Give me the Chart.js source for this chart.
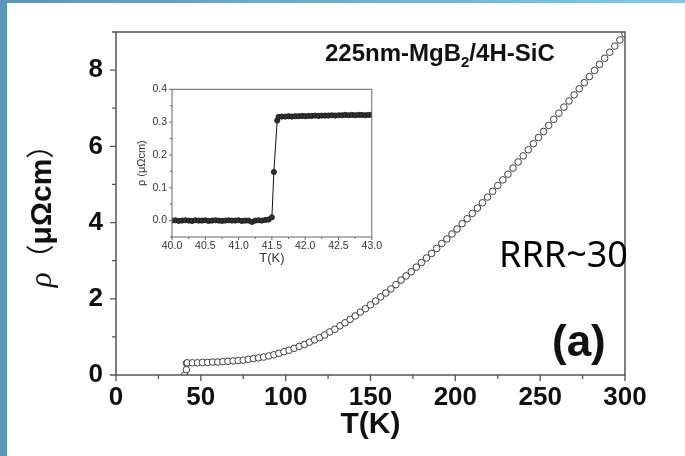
<!DOCTYPE html>
<html>
<head>
<meta charset="utf-8">
<script src="https://cdn.jsdelivr.net/npm/chart.js@4.4.1/dist/chart.umd.min.js"></script>
<style>
  html, body { margin: 0; padding: 0; background: #fff; }
  #wrap { position: relative; width: 685px; height: 456px; overflow: hidden; background: #fff; }
  #main { position: absolute; left: 0; top: 0; }
  #inset { position: absolute; left: 120px; top: 78px; }
  #leftbar { position: absolute; left: 0; top: 0; width: 7px; height: 456px; background: #5b95b8; }
  #topbar { position: absolute; left: 0; top: 0; width: 685px; height: 3px; background: linear-gradient(to right, #5b95b8, #7fcbe4); }
</style>
</head>
<body>
<div id="wrap">
  <canvas id="main" width="685" height="456"></canvas>
  <canvas id="inset" width="265" height="195"></canvas>
  <div id="leftbar"></div>
  <div id="topbar"></div>
</div>
<script>
// main curve, T in K, rho in uOhm cm
const mainT = [40.5, 41.5, 41.6,
  42, 45, 48, 51, 54, 57, 60, 63, 66, 69, 72, 75, 78, 81, 84, 87, 90, 93, 96, 99,
  102, 105, 108, 111, 114, 117, 120, 123, 126, 129, 132, 135, 138, 141, 144, 147, 150,
  153, 156, 159, 162, 165, 168, 171, 174, 177, 180, 183, 186, 189, 192, 195, 198, 201,
  204, 207, 210, 213, 216, 219, 222, 225, 228, 231, 234, 237, 240, 243, 246, 249, 252,
  255, 258, 261, 264, 267, 270, 273, 276, 279, 282, 285, 288, 291, 294, 297, 300];
const mainRho = [0, 0.14, 0.31,
  0.32, 0.32, 0.32, 0.33, 0.33, 0.34, 0.34, 0.35, 0.36, 0.37, 0.38, 0.39, 0.41, 0.43, 0.45, 0.47, 0.50, 0.53, 0.57, 0.61,
  0.65, 0.70, 0.75, 0.80, 0.86, 0.92, 0.98, 1.05, 1.13, 1.20, 1.29, 1.37, 1.46, 1.55, 1.65, 1.74, 1.84,
  1.94, 2.05, 2.15, 2.26, 2.37, 2.49, 2.60, 2.71, 2.83, 2.95, 3.07, 3.19, 3.32, 3.45, 3.57, 3.70, 3.83,
  3.97, 4.10, 4.24, 4.38, 4.52, 4.67, 4.82, 4.97, 5.12, 5.27, 5.43, 5.59, 5.75, 5.91, 6.07, 6.23, 6.39,
  6.55, 6.71, 6.87, 7.03, 7.19, 7.35, 7.51, 7.67, 7.83, 7.99, 8.15, 8.31, 8.47, 8.63, 8.79, 8.95];

// inset: transition region
const insetT = [40.00, 40.05, 40.10, 40.15, 40.20, 40.25, 40.30, 40.35, 40.40, 40.45,
  40.50, 40.55, 40.60, 40.65, 40.70, 40.75, 40.80, 40.85, 40.90, 40.95,
  41.00, 41.05, 41.10, 41.15, 41.20, 41.25, 41.30, 41.35, 41.40, 41.45,
  41.50, 41.53, 41.58,
  41.60, 41.65, 41.70, 41.75, 41.80, 41.85, 41.90, 41.95, 42.00, 42.05,
  42.10, 42.15, 42.20, 42.25, 42.30, 42.35, 42.40, 42.45, 42.50, 42.55,
  42.60, 42.65, 42.70, 42.75, 42.80, 42.85, 42.90, 42.95, 43.00];
const insetRho = [0.000, 0.001, -0.001, 0.000, 0.001, 0.000, -0.001, 0.001, 0.000, 0.000,
  0.001, -0.001, 0.000, 0.001, 0.000, -0.001, 0.000, 0.001, 0.000, 0.000,
  0.001, -0.001, 0.000, 0.000, -0.004, 0.000, 0.001, 0.000, 0.002, 0.003,
  0.010, 0.148, 0.305,
  0.316, 0.317, 0.317, 0.318, 0.317, 0.318, 0.318, 0.319, 0.318, 0.319,
  0.319, 0.320, 0.319, 0.320, 0.320, 0.320, 0.321, 0.320, 0.321, 0.321,
  0.322, 0.321, 0.322, 0.321, 0.322, 0.322, 0.321, 0.322, 0.322];

const FONT = '"Liberation Sans", Arial, sans-serif';
Chart.defaults.font.family = FONT;

// frame around the plot area plus outward tick marks (long for labelled ticks)
const axisFrame = {
  id: 'axisFrame',
  afterDraw(chart, args, opts) {
    const { ctx, chartArea: a, scales } = chart;
    ctx.save();
    ctx.strokeStyle = opts.color;
    ctx.lineWidth = opts.width;
    ctx.strokeRect(a.left, a.top, a.right - a.left, a.bottom - a.top);
    ctx.lineWidth = opts.tickWidth;
    ctx.beginPath();
    scales.x.ticks.forEach(t => {
      const px = scales.x.getPixelForValue(t.value);
      const len = t.label !== '' ? opts.majorLen : opts.minorLen;
      ctx.moveTo(px, a.bottom);
      ctx.lineTo(px, a.bottom + len);
    });
    scales.y.ticks.forEach(t => {
      const py = scales.y.getPixelForValue(t.value);
      const len = t.label !== '' ? opts.majorLen : opts.minorLen;
      ctx.moveTo(a.left, py);
      ctx.lineTo(a.left - len, py);
    });
    ctx.stroke();
    ctx.restore();
  }
};

// annotations on the main plot
const mainText = {
  id: 'mainText',
  afterDraw(chart) {
    const ctx = chart.ctx;
    ctx.save();
    ctx.fillStyle = '#111';
    ctx.textBaseline = 'alphabetic';
    ctx.textAlign = 'left';

    // sample label with subscript
    let x = 325;
    ctx.font = 'bold 24px ' + FONT;
    ctx.fillText('225nm-MgB', x, 61);
    x += ctx.measureText('225nm-MgB').width;
    ctx.font = 'bold 15px ' + FONT;
    ctx.fillText('2', x, 67);
    x += ctx.measureText('2').width;
    ctx.font = 'bold 24px ' + FONT;
    ctx.fillText('/4H-SiC', x, 61);

    ctx.font = '36px "Noto Sans", sans-serif';
    ctx.fillStyle = '#000';
    ctx.fillText('RRR~30', 499, 267);

    ctx.font = 'bold 44px ' + FONT;
    ctx.fillStyle = '#111';
    ctx.fillText('(a)', 552, 356);

    // y axis title: rho (uOhm cm), full-width brackets as in the figure
    const parts = [
      ['\u03c1', 'italic 31px "Liberation Serif", serif'],
      ['\uff08', '28px "Noto Sans CJK SC", sans-serif'],
      ['\u03bc\u03a9cm', 'bold 30px ' + FONT],
      ['\uff09', '28px "Noto Sans CJK SC", sans-serif']
    ];
    let total = 0;
    parts.forEach(p => { ctx.font = p[1]; total += ctx.measureText(p[0]).width; });
    ctx.translate(40, 209);
    ctx.rotate(-Math.PI / 2);
    let lx = -total / 2;
    parts.forEach(p => {
      ctx.font = p[1];
      ctx.fillText(p[0], lx, 11);
      lx += ctx.measureText(p[0]).width;
    });
    ctx.restore();
  }
};

new Chart(document.getElementById('main'), {
  type: 'scatter',
  data: {
    datasets: [{
      data: mainT.map((t, i) => ({ x: t, y: mainRho[i] })),
      pointStyle: 'circle',
      pointRadius: 3.3,
      pointBorderWidth: 1,
      pointBorderColor: '#3c3c3c',
      pointBackgroundColor: '#fff',
      showLine: false
    }]
  },
  options: {
    responsive: false,
    animation: false,
    layout: { padding: { top: 32, right: 60, left: 0, bottom: 0 } },
    plugins: {
      legend: { display: false },
      tooltip: { enabled: false },
      axisFrame: { color: '#555', width: 1.5, tickWidth: 1.3, majorLen: 6, minorLen: 4 }
    },
    scales: {
      x: {
        type: 'linear', min: 0, max: 300,
        grid: { display: false, drawTicks: false },
        border: { display: false },
        ticks: {
          stepSize: 25, autoSkip: false, maxRotation: 0, padding: 7,
          color: '#111', font: { size: 26, weight: 'bold' },
          callback: v => (v % 50 === 0 ? String(v) : '')
        },
        title: {
          display: true, text: 'T(K)', color: '#111',
          font: { size: 30, weight: 'bold' },
          padding: { top: 0, bottom: 13 }
        },
        afterFit: s => { s.height = 81; }
      },
      y: {
        type: 'linear', min: 0, max: 9,
        grid: { display: false, drawTicks: false },
        border: { display: false },
        ticks: {
          stepSize: 1, autoSkip: false, padding: 13,
          color: '#111', font: { size: 26, weight: 'bold' },
          callback: v => (v % 2 === 0 && v < 9 ? String(v) : '')
        },
        afterFit: s => { s.width = 116; }
      }
    }
  },
  plugins: [axisFrame, mainText]
});

new Chart(document.getElementById('inset'), {
  type: 'scatter',
  data: {
    datasets: [{
      data: insetT.map((t, i) => ({ x: t, y: insetRho[i] })),
      showLine: true,
      borderColor: '#111',
      borderWidth: 1,
      pointRadius: 2.6,
      pointBorderWidth: 0.8,
      pointBorderColor: '#111',
      pointBackgroundColor: '#333'
    }]
  },
  options: {
    responsive: false,
    animation: false,
    layout: { padding: { top: 11, right: 12, left: 0, bottom: 0 } },
    plugins: {
      legend: { display: false },
      tooltip: { enabled: false },
      axisFrame: { color: '#666', width: 1, tickWidth: 1, majorLen: 3, minorLen: 2 }
    },
    scales: {
      x: {
        type: 'linear', min: 40, max: 43,
        grid: { display: false, drawTicks: false },
        border: { display: false },
        ticks: {
          stepSize: 0.25, autoSkip: false, maxRotation: 0, padding: 3,
          color: '#333', font: { size: 10.5 },
          callback: v => (Math.abs(v * 2 - Math.round(v * 2)) < 1e-6 ? v.toFixed(1) : '')
        },
        title: {
          display: true, text: 'T(K)', color: '#333',
          font: { size: 13 },
          padding: { top: 0, bottom: 7 }
        },
        afterFit: s => { s.height = 36; }
      },
      y: {
        type: 'linear', min: -0.05, max: 0.4,
        grid: { display: false, drawTicks: false },
        border: { display: false },
        ticks: {
          stepSize: 0.05, autoSkip: false, padding: 5,
          color: '#333', font: { size: 10.5 },
          callback: v => (Math.abs(v * 10 - Math.round(v * 10)) < 1e-6 ? (Math.round(v * 10) / 10).toFixed(1) : '')
        },
        title: {
          display: true, text: '\u03c1 (\u03bc\u03a9cm)', color: '#333',
          font: { size: 11 },
          padding: { top: 15, bottom: 0 }
        },
        afterFit: s => { s.width = 52; }
      }
    }
  },
  plugins: [axisFrame]
});
</script>
</body>
</html>
